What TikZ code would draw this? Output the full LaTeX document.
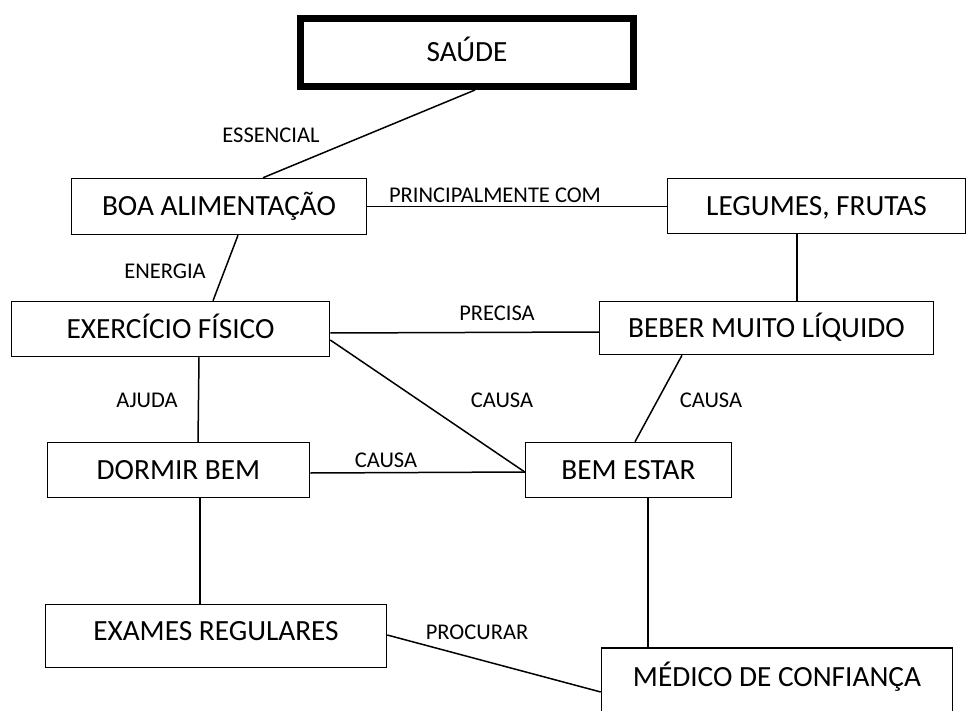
\documentclass[tikz,border=0pt]{standalone}
\usepackage{fontspec}
\setmainfont{Carlito}
\begin{document}
\begin{tikzpicture}[x=1pt,y=-1pt,
  box/.style={draw, line width=1.5pt, inner sep=0pt, text height=18.9pt, text depth=0pt, font=\fontsize{29.3}{32}\selectfont},
  boxtext/.style={inner sep=0pt, text height=18.9pt, text depth=0pt, font=\fontsize{29.3}{32}\selectfont},
  lab/.style={inner sep=0pt, text height=14.5pt, text depth=0pt, font=\fontsize{22.5}{25}\selectfont},
  conn/.style={line width=1.5pt}]
\useasboundingbox[fill=white] (0,0) rectangle (976,711);
% boxes
\node[box, line width=7pt, minimum width=333pt, minimum height=68pt] (saude) at (467,52.5) {SAÚDE};
\node[box, minimum width=295pt, minimum height=56pt] (boa) at (219,206.5) {BOA ALIMENTAÇÃO};
\node[box, minimum width=298pt, minimum height=55pt] (leg) at (816.5,206) {LEGUMES, FRUTAS};
\node[box, minimum width=318pt, minimum height=55pt] (ex) at (170.5,329) {EXERCÍCIO FÍSICO};
\node[box, minimum width=334pt, minimum height=53pt] (beb) at (766.5,328) {BEBER MUITO LÍQUIDO};
\node[box, minimum width=262pt, minimum height=55pt] (dor) at (178.5,470) {DORMIR BEM};
\node[box, minimum width=206pt, minimum height=55pt] (bem) at (628.5,470) {BEM ESTAR};
\node[box, minimum width=341pt, minimum height=63pt] (exa) at (216,636) {};
\node[boxtext] (exat) at (216,631) {EXAMES REGULARES};
\node[box, minimum width=351pt, minimum height=68pt] (med) at (777,682) {};
\node[boxtext] (medt) at (777,677) {MÉDICO DE CONFIANÇA};
% connectors
\draw[conn] ([xshift=8pt]saude.south) -- ([xshift=44pt]boa.north);
\draw[conn] (boa.east) -- (boa.east -| leg.west);
\draw[conn] ([xshift=19pt]boa.south) -- ([xshift=42.5pt]ex.north);
\draw[conn] ([xshift=-19.5pt]leg.south) -- ([xshift=30.5pt]beb.north);
\draw[conn] ([yshift=-4pt]ex.east) -- ([yshift=-4pt]beb.west);
\draw[conn] ([yshift=-11pt]ex.east) -- ([yshift=-2pt]bem.west);
\draw[conn] ([xshift=-84.5pt]beb.south) -- ([xshift=6.5pt]bem.north);
\draw[conn] ([xshift=28.5pt]ex.south) -- ([xshift=19.5pt]dor.north);
\draw[conn] ([yshift=-3pt]dor.east) -- ([yshift=-2pt]bem.west);
\draw[conn] ([xshift=21.5pt]dor.south) -- ([xshift=-16pt]exa.north);
\draw[conn] ([xshift=19.5pt]bem.south) -- ([xshift=-129pt]med.north);
\draw[conn] ([yshift=1pt]exa.east) -- ([yshift=-10pt]med.west);
% labels
\node[lab] (l1) at (271,135) {ESSENCIAL};
\node[lab] (l2) at (495,195) {PRINCIPALMENTE COM};
\node[lab] (l3) at (165,271) {ENERGIA};
\node[lab] (l4) at (497,313) {PRECISA};
\node[lab] (l5) at (502,400) {CAUSA};
\node[lab] (l6) at (711,400) {CAUSA};
\node[lab] (l7) at (147,400) {AJUDA};
\node[lab] (l8) at (386,460) {CAUSA};
\node[lab] (l9) at (477,632) {PROCURAR};
\end{tikzpicture}
\end{document}
